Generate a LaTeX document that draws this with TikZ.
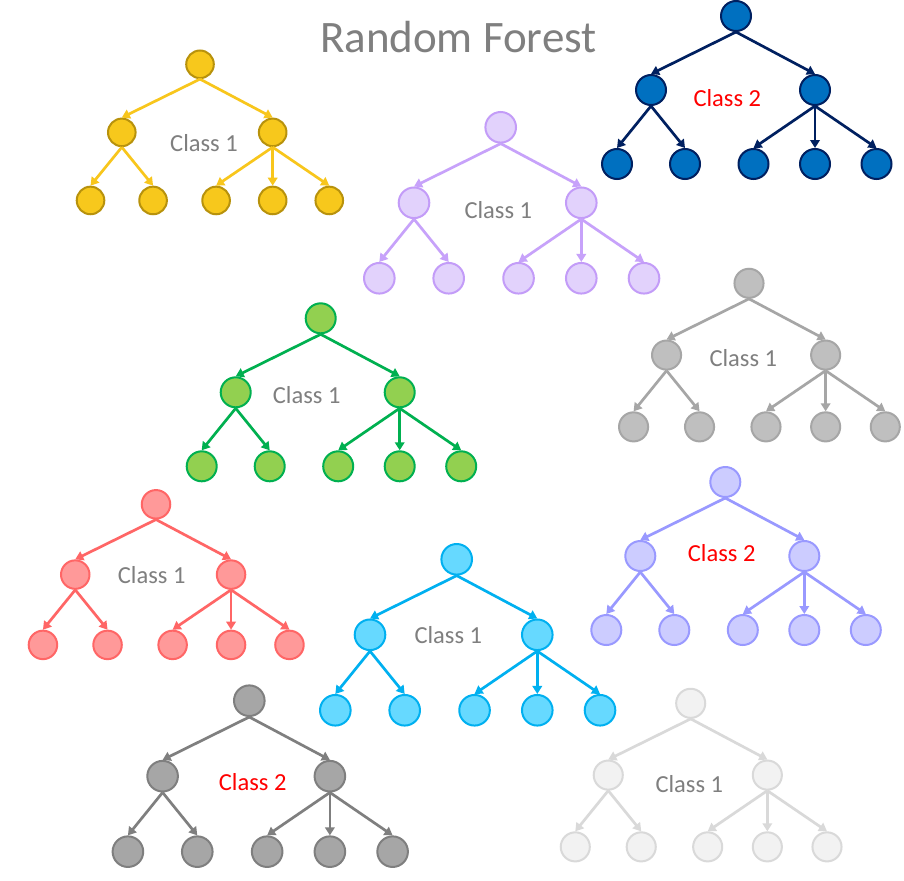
\documentclass[tikz,border=0pt]{standalone}
\usepackage{fontspec}
\setmainfont{Carlito}
\usetikzlibrary{arrows.meta}
\definecolor{yelF}{HTML}{F7C81C}\definecolor{yelB}{HTML}{B8920C}\definecolor{yelA}{HTML}{F8C61C}
\definecolor{bluF}{HTML}{0070C0}\definecolor{bluB}{HTML}{002060}\definecolor{bluA}{HTML}{002060}
\definecolor{purF}{HTML}{E2D2FC}\definecolor{purB}{HTML}{C39CF8}\definecolor{purA}{HTML}{C7A2FA}
\definecolor{grnF}{HTML}{92D050}\definecolor{grnB}{HTML}{00B050}\definecolor{grnA}{HTML}{00B050}
\definecolor{gryF}{HTML}{BFBFBF}\definecolor{gryB}{HTML}{A6A6A6}\definecolor{gryA}{HTML}{A6A6A6}
\definecolor{redF}{HTML}{FF9999}\definecolor{redB}{HTML}{FF6666}\definecolor{redA}{HTML}{FF6666}
\definecolor{cyaF}{HTML}{66D9FF}\definecolor{cyaB}{HTML}{00B0F0}\definecolor{cyaA}{HTML}{00B0F0}
\definecolor{perF}{HTML}{CCCCFF}\definecolor{perB}{HTML}{9999FF}\definecolor{perA}{HTML}{9999FF}
\definecolor{dgrF}{HTML}{A6A6A6}\definecolor{dgrB}{HTML}{7F7F7F}\definecolor{dgrA}{HTML}{7F7F7F}
\definecolor{lgrF}{HTML}{F2F2F2}\definecolor{lgrB}{HTML}{D9D9D9}\definecolor{lgrA}{HTML}{D9D9D9}
\definecolor{txtgray}{HTML}{7F7F7F}
\definecolor{txtred}{HTML}{FF0000}
\tikzset{
  treenode/.style={circle,draw,line width=2pt,inner sep=0pt},
  treeedge/.style={line width=2.7pt,-{Triangle[length=8pt,width=9.5pt]}},
  lbl/.style={font=\fontsize{24.5}{29}\selectfont,inner sep=0pt},
  ttl/.style={font=\fontsize{45}{54}\selectfont,inner sep=0pt,text=txtgray},
}
% #1 prefix, #2 root x, #3 root y, #4 scale, #5 colour prefix, #6 label x, #7 label y, #8 label, #9 label colour
\newcommand\rftree[9]{%
  \tikzset{cur/.style={treenode,fill=#5F,draw=#5B,minimum size={(30*#4)*1pt}}}
  \node[cur] (#1r) at (#2,#3) {};
  \node[cur] (#1a) at ({#2-85*#4},{#3+74*#4}) {};
  \node[cur] (#1b) at ({#2+79*#4},{#3+74*#4}) {};
  \node[cur] (#1c) at ({#2-119*#4},{#3+148*#4}) {};
  \node[cur] (#1d) at ({#2-51*#4},{#3+148*#4}) {};
  \node[cur] (#1e) at ({#2+17.5*#4},{#3+148*#4}) {};
  \node[cur] (#1f) at ({#2+79*#4},{#3+148*#4}) {};
  \node[cur] (#1g) at ({#2+140.5*#4},{#3+148*#4}) {};
  \draw[treeedge,draw=#5A] (#1r.south) -- (#1a.north);
  \draw[treeedge,draw=#5A] (#1r.south) -- (#1b.north);
  \draw[treeedge,draw=#5A] (#1a.south) -- (#1c.north);
  \draw[treeedge,draw=#5A] (#1a.south) -- (#1d.north);
  \draw[treeedge,draw=#5A] (#1b.south) -- (#1e.north);
  \draw[treeedge,draw=#5A] (#1b.south) -- (#1f.north);
  \draw[treeedge,draw=#5A] (#1b.south) -- (#1g.north);
  \node[lbl,text=#9] (#1t) at (#6,#7) {#8};
}
\begin{document}
\begin{tikzpicture}[x=1pt,y=-1pt]
\useasboundingbox[fill=white] (0,0) rectangle (904,880);
\node[ttl] (title) at (458.3,37) {Random Forest};
\rftree{ya}{200}{64.3}{0.92}{yel}{204}{143.3}{Class 1}{txtgray}
\rftree{bl}{736}{16}{1.0}{blu}{727.3}{98.3}{Class 2}{txtred}
\rftree{pu}{500.7}{127.3}{1.02}{pur}{498.3}{210}{Class 1}{txtgray}
\rftree{gr}{320.7}{318.3}{1.0}{grn}{306.7}{395}{Class 1}{txtgray}
\rftree{gy}{749}{283.3}{0.97}{gry}{743.3}{358.3}{Class 1}{txtgray}
\rftree{rd}{156}{504.3}{0.95}{red}{151.7}{575}{Class 1}{txtgray}
\rftree{cy}{456.7}{559.3}{1.02}{cya}{448.3}{635}{Class 1}{txtgray}
\rftree{pe}{725.3}{482}{1.0}{per}{721.7}{553.3}{Class 2}{txtred}
\rftree{dg}{249.3}{700.7}{1.02}{dgr}{252.7}{781.7}{Class 2}{txtred}
\rftree{lg}{690.7}{703.3}{0.97}{lgr}{689.3}{784}{Class 1}{txtgray}
\end{tikzpicture}
\end{document}
